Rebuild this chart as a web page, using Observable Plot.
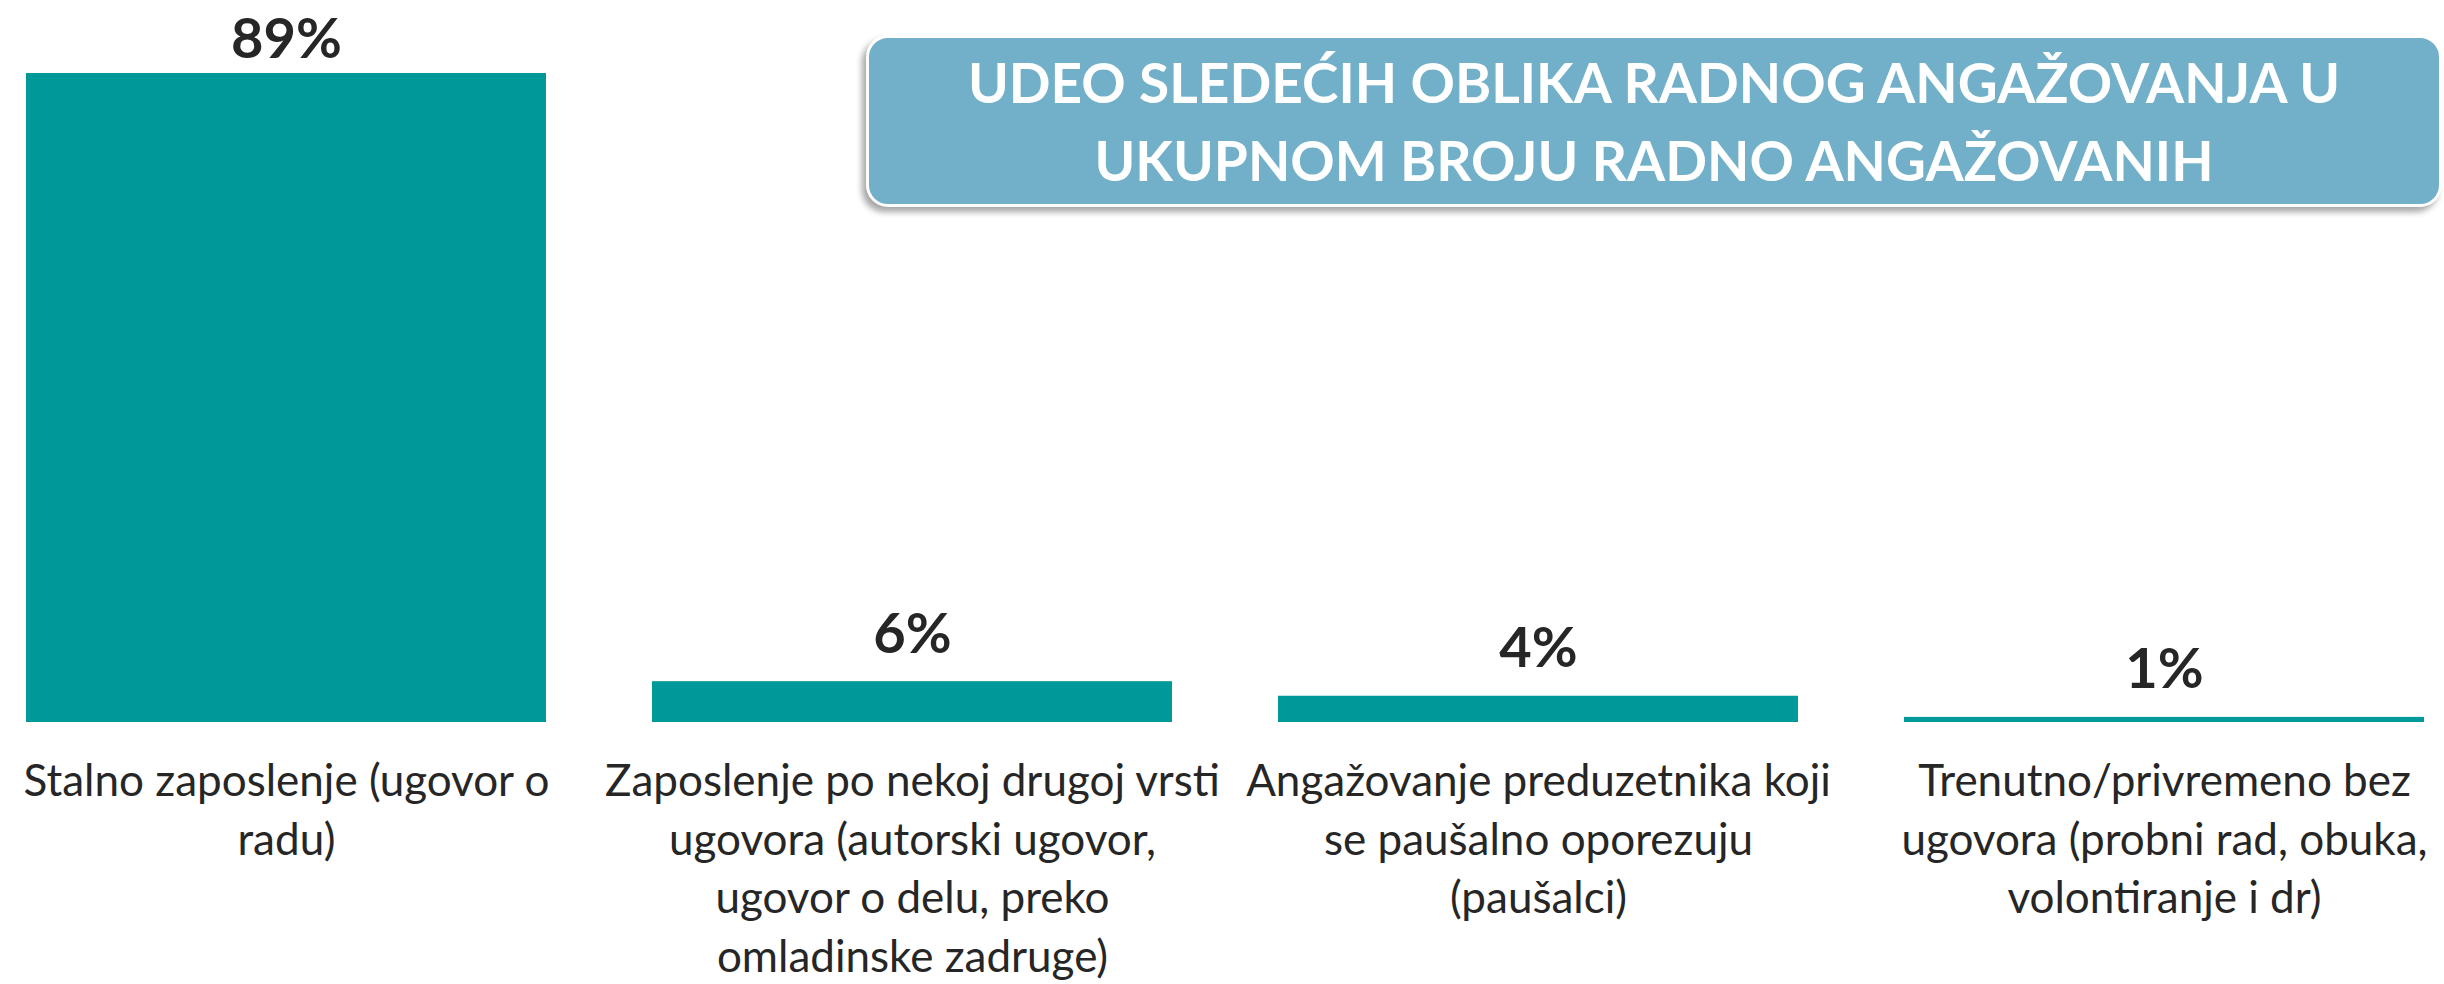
<!DOCTYPE html>
<html><head><meta charset="utf-8">
<script src="https://cdn.jsdelivr.net/npm/d3@7"></script>
<script src="https://cdn.jsdelivr.net/npm/@observablehq/plot@0.6"></script>
<style>
body{margin:0;background:#fff;}
#wrap{position:relative;width:2444px;height:984px;}
#title{position:absolute;left:866px;top:35px;width:1576px;height:172px;box-sizing:border-box;background:#71b0c8;border:3px solid #fff;border-radius:22px;box-shadow:-4px 5px 6px rgba(0,0,0,0.35);color:#fff;font-family:Lato,sans-serif;font-weight:bold;font-size:55px;line-height:78px;text-align:center;display:flex;align-items:center;justify-content:center;}
</style>
</head><body>
<div id="wrap"><div id="chart"></div><div id="title">UDEO SLEDEĆIH OBLIKA RADNOG ANGAŽOVANJA U<br>UKUPNOM BROJU RADNO ANGAŽOVANIH</div></div>
<script>
const categories = [
  "Stalno zaposlenje (ugovor o radu)",
  "Zaposlenje po nekoj drugoj vrsti ugovora (autorski ugovor, ugovor o delu, preko omladinske zadruge)",
  "Angažovanje preduzetnika koji se paušalno oporezuju (paušalci)",
  "Trenutno/privremeno bez ugovora (probni rad, obuka, volontiranje i dr)"
];
const categoryLines = [
  ["Stalno zaposlenje (ugovor o", "radu)"],
  ["Zaposlenje po nekoj drugoj vrsti", "ugovora (autorski ugovor,", "ugovor o delu, preko", "omladinske zadruge)"],
  ["Angažovanje preduzetnika koji", "se paušalno oporezuju", "(paušalci)"],
  ["Trenutno/privremeno bez", "ugovora (probni rad, obuka,", "volontiranje i dr)"]
];
const values = [89, 5.6, 3.6, 0.7];
const valueLabels = ["89%", "6%", "4%", "1%"];

const data = categories.map((c, i) => ({category: c, value: values[i], label: valueLabels[i]}));
const maxV = d3.max(values);

const chart = Plot.plot({
  width: 2444,
  height: 984,
  marginLeft: 25,
  marginRight: 18,
  marginTop: 73,
  marginBottom: 262,
  style: {fontFamily: "Lato, sans-serif", color: "#262626", background: "#fff"},
  x: {domain: categories, paddingInner: 0.169, paddingOuter: 0, label: null},
  y: {domain: [0, maxV], axis: null},
  marks: [
    Plot.barY(data, {x: "category", y: "value", fill: "#009999"}),
    Plot.text(data.filter(d => d.value < maxV), {x: "category", y: "value", text: "label", dy: -29, lineAnchor: "bottom", fontSize: 56, fontWeight: "bold", fill: "#262626"}),
    Plot.text(data.filter(d => d.value === maxV), {x: "category", y: "value", text: "label", dy: -16, lineAnchor: "bottom", fontSize: 56, fontWeight: "bold", fill: "#262626"}),
    Plot.axisX({
      tickSize: 0,
      tickPadding: 32,
      fontSize: 44,
      lineHeight: 1.33,
      fill: "#262626",
      label: null,
      tickFormat: d => categoryLines[categories.indexOf(d)].join("\n")
    })
  ]
});
document.getElementById("chart").appendChild(chart);
</script>
</body></html>
